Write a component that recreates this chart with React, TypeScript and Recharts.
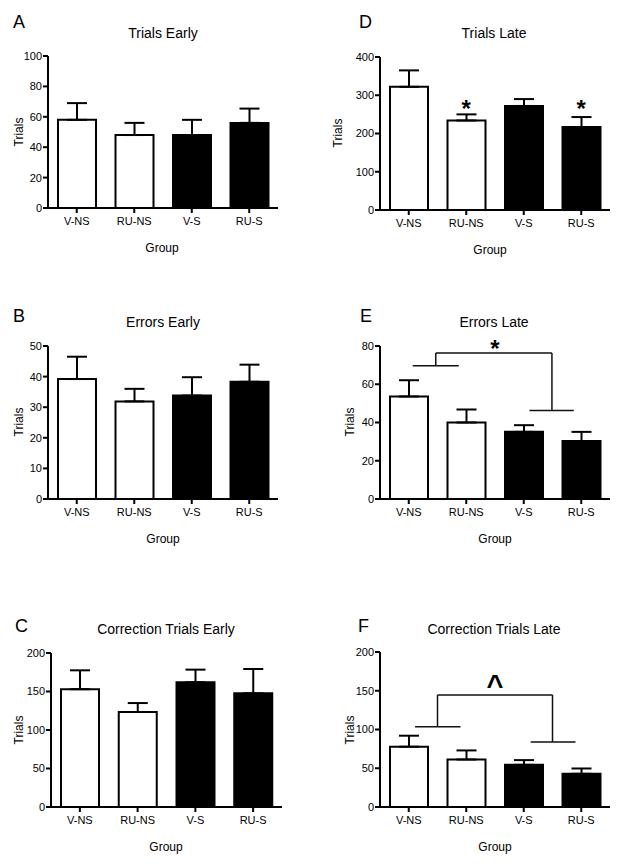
import React from 'react'
import { BarChart, Bar, XAxis, YAxis, ErrorBar, Cell, ReferenceLine, ReferenceDot } from 'recharts'

const groups = ['V-NS', 'RU-NS', 'V-S', 'RU-S']

// bar heights (mean) and top of the SEM bar
const trialsEarlyMean = [58, 48, 48, 56]
const trialsEarlyTop = [69, 56, 58, 65.4]
const trialsLateMean = [322, 234, 272, 217]
const trialsLateTop = [365, 250, 290, 243]
const errorsEarlyMean = [39.2, 31.9, 33.8, 38.3]
const errorsEarlyTop = [46.5, 36, 39.8, 43.9]
const errorsLateMean = [53.6, 40, 35.1, 30.3]
const errorsLateTop = [62.1, 46.8, 38.6, 35.1]
const corrEarlyMean = [153, 123.4, 162, 147.6]
const corrEarlyTop = [177.5, 135, 178.4, 179.2]
const corrLateMean = [77.8, 61.3, 54.4, 42.8]
const corrLateTop = [92, 73, 60.5, 49.7]

const ticks100 = [0, 20, 40, 60, 80, 100]
const ticks400 = [0, 100, 200, 300, 400]
const ticks50 = [0, 10, 20, 30, 40, 50]
const ticks80 = [0, 20, 40, 60, 80]
const ticks200 = [0, 50, 100, 150, 200]

// significance marks
const trialsLateStars = [
  { group: 'RU-NS', y: 280 },
  { group: 'RU-S', y: 280 },
]
// brackets: [x1, y1, x2, y2], x on a 0..4 group scale (group centres at 0.5, 1.5, ...)
const errorsLateBracket = [
  [0.57, 69.7, 1.37, 69.7],
  [0.97, 69.7, 0.97, 76.3],
  [0.97, 76.3, 2.99, 76.3],
  [2.99, 76.3, 2.99, 46.3],
  [2.6, 46.3, 3.37, 46.3],
]
const errorsLateMark = { x: 2, y: 81.6, text: '*' }
const corrLateBracket = [
  [0.61, 103.6, 1.4, 103.6],
  [1.0, 103.6, 1.0, 144.5],
  [1.0, 144.5, 3.0, 144.5],
  [3.0, 144.5, 3.0, 83.8],
  [2.62, 83.8, 3.4, 83.8],
]
const corrLateMark = { x: 2, y: 160, text: '^' }

const barFills = ['#fff', '#fff', '#000', '#000']
const FONT = '"Liberation Sans", Arial, Helvetica, sans-serif'

const panels = [
  { letter: 'A', title: 'Trials Early', mean: trialsEarlyMean, top: trialsEarlyTop, ticks: ticks100,
    x: 0, y: 0, plot: { l: 48, t: 56, r: 278, b: 208 },
    letterPos: [13, 28], titlePos: [163, 38], yLab: [23, 132], xLab: [162, 252] },
  { letter: 'D', title: 'Trials Late', mean: trialsLateMean, top: trialsLateTop, ticks: ticks400,
    x: 312, y: 0, plot: { l: 380, t: 57, r: 610, b: 210 }, stars: trialsLateStars,
    letterPos: [359, 28], titlePos: [494, 38], yLab: [342, 133], xLab: [490, 254] },
  { letter: 'B', title: 'Errors Early', mean: errorsEarlyMean, top: errorsEarlyTop, ticks: ticks50,
    x: 0, y: 276, plot: { l: 48, t: 346, r: 278, b: 499 },
    letterPos: [13, 322], titlePos: [163, 327], yLab: [23, 422], xLab: [163, 543] },
  { letter: 'E', title: 'Errors Late', mean: errorsLateMean, top: errorsLateTop, ticks: ticks80,
    x: 312, y: 276, plot: { l: 380, t: 346, r: 610, b: 499 },
    bracket: errorsLateBracket, mark: errorsLateMark,
    letterPos: [360, 322], titlePos: [494, 327], yLab: [354, 422], xLab: [495, 543] },
  { letter: 'C', title: 'Correction Trials Early', mean: corrEarlyMean, top: corrEarlyTop, ticks: ticks200,
    x: 0, y: 576, plot: { l: 51, t: 653, r: 282, b: 807 },
    letterPos: [15, 632], titlePos: [166, 634], yLab: [23, 730], xLab: [166, 851] },
  { letter: 'F', title: 'Correction Trials Late', mean: corrLateMean, top: corrLateTop, ticks: ticks200,
    x: 312, y: 576, plot: { l: 380, t: 652, r: 610, b: 807 },
    bracket: corrLateBracket, mark: corrLateMark,
    letterPos: [358, 632], titlePos: [494, 634], yLab: [354, 730], xLab: [495, 851] },
]

const W = 312
const H = 290
const Y_W = 40
const X_H = 30

const markShape = (text: string, size: number, drop: number) => (props: any) => (
  <text x={props.cx} y={props.cy + drop} textAnchor="middle" fontSize={size}
    fontFamily={FONT} fontWeight="bold" fill="#000">{text}</text>
)

function Panel({ p }: { p: any }) {
  const data = groups.map((g, i) => ({
    group: g,
    pos: i + 0.5,
    mean: p.mean[i],
    err: [0, p.top[i] - p.mean[i]],
  }))
  const { l, t, r, b } = p.plot
  const margin = {
    left: l - p.x - Y_W,
    top: t - p.y,
    right: p.x + W - r,
    bottom: p.y + H - b - X_H,
  }
  const tickStyle = { fill: '#000', fontSize: 11, fontFamily: FONT }
  return (
    <div style={{ position: 'absolute', left: p.x, top: p.y }}>
      <BarChart width={W} height={H} data={data} margin={margin}>
        <XAxis dataKey="group" height={X_H} tick={tickStyle} tickSize={5} tickMargin={4}
          axisLine={{ stroke: '#000', strokeWidth: 2 }} tickLine={{ stroke: '#000', strokeWidth: 2 }} />
        <XAxis xAxisId="b" dataKey="pos" type="number" domain={[0, 4]} allowDataOverflow hide />
        <YAxis width={Y_W} domain={[0, p.ticks[p.ticks.length - 1]]} ticks={p.ticks} interval={0}
          tick={tickStyle} tickSize={5} tickMargin={1}
          axisLine={{ stroke: '#000', strokeWidth: 2 }} tickLine={{ stroke: '#000', strokeWidth: 2 }} />
        <Bar dataKey="mean" barSize={38} stroke="#000" strokeWidth={2} isAnimationActive={false}>
          {data.map((d, i) => <Cell key={d.group} fill={barFills[i]} />)}
          <ErrorBar dataKey="err" width={10} stroke="#000" strokeWidth={2} direction="y" isAnimationActive={false} />
        </Bar>
        {(p.bracket || []).map((s: number[], i: number) => (
          <ReferenceLine key={i} xAxisId="b" segment={[{ x: s[0], y: s[1] }, { x: s[2], y: s[3] }]}
            stroke="#111" strokeWidth={1.5} ifOverflow="visible" />
        ))}
        {p.mark && (
          <ReferenceDot xAxisId="b" x={p.mark.x} y={p.mark.y} r={0} ifOverflow="visible"
            shape={p.mark.text === '*' ? markShape('*', 24, 14) : markShape('^', 29, 12)} />
        )}
        {(p.stars || []).map((s: any) => (
          <ReferenceDot key={s.group} x={s.group} y={s.y} r={0} ifOverflow="visible" shape={markShape('*', 24, 14)} />
        ))}
      </BarChart>
    </div>
  )
}

export default function App() {
  return (
    <div style={{ position: 'absolute', left: 0, top: 0, width: 624, height: 866, background: '#fff', fontFamily: FONT }}>
      {panels.map(p => <Panel key={p.letter} p={p} />)}
      <svg width={624} height={866} style={{ position: 'absolute', left: 0, top: 0, pointerEvents: 'none' }}>
        {panels.map(p => (
          <g key={p.letter} fontFamily={FONT} fill="#000">
            <text x={p.letterPos[0]} y={p.letterPos[1]} fontSize={18}>{p.letter}</text>
            <text x={p.titlePos[0]} y={p.titlePos[1]} fontSize={14} textAnchor="middle">{p.title}</text>
            <text x={p.yLab[0]} y={p.yLab[1]} fontSize={12} textAnchor="middle"
              transform={`rotate(-90 ${p.yLab[0]} ${p.yLab[1]})`}>Trials</text>
            <text x={p.xLab[0]} y={p.xLab[1]} fontSize={12} textAnchor="middle">Group</text>
          </g>
        ))}
      </svg>
    </div>
  )
}
